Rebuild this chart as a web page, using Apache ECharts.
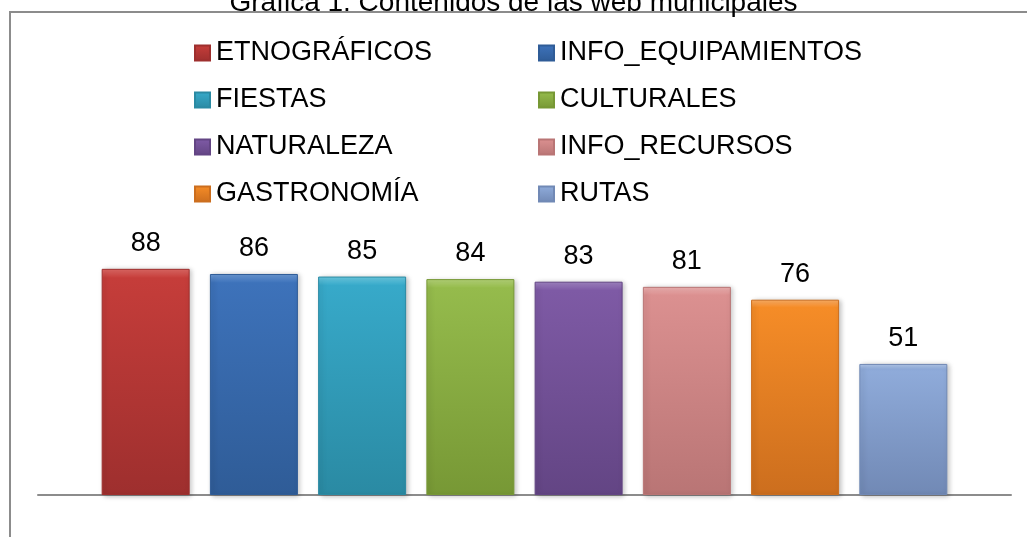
<!DOCTYPE html>
<html>
<head>
<meta charset="utf-8">
<script src="https://cdn.jsdelivr.net/npm/echarts@6/dist/echarts.min.js"></script>
<style>html,body{margin:0;padding:0;background:#fff;}#c{width:1027px;height:537px;}</style>
</head>
<body>
<div id="c"></div>
<script>
var titleText = 'Gráfica 1. Contenidos de las web municipales';
var seriesNames = ['ETNOGRÁFICOS','INFO_EQUIPAMIENTOS','FIESTAS','CULTURALES','NATURALEZA','INFO_RECURSOS','GASTRONOMÍA','RUTAS'];
var values = [88, 86, 85, 84, 83, 81, 76, 51];
var legendCol1 = ['ETNOGRÁFICOS','FIESTAS','NATURALEZA','GASTRONOMÍA'];
var legendCol2 = ['INFO_EQUIPAMIENTOS','CULTURALES','INFO_RECURSOS','RUTAS'];
var topColors = ['#C53D3A','#3D72BA','#37A9C9','#95BB4C','#7E5AA5','#DB9090','#F58C27','#8FABDA'];
var bottomColors = ['#9E2F2E','#2F5C97','#2A8AA3','#779835','#634584','#B97575','#CC6E1E','#7189B5'];
var edgeColors = ['#E06A66','#6C9AD6','#6CCBE3','#B7D67A','#A286C4','#F0B3B3','#FFB066','#B5CBEE'];

var font = '"Liberation Sans", Arial, sans-serif';
var chart = echarts.init(document.getElementById('c'));
var series = seriesNames.map(function (n, i) {
  return {
    name: n,
    type: 'bar',
    data: [values[i]],
    barWidth: 88,
    barGap: '23%',
    itemStyle: {
      color: new echarts.graphic.LinearGradient(0, 0, 0, 1, [
        {offset: 0, color: edgeColors[i]},
        {offset: 0.04, color: topColors[i]},
        {offset: 1, color: bottomColors[i]}
      ]),
      borderColor: bottomColors[i],
      borderWidth: 1,
      shadowBlur: 5,
      shadowColor: 'rgba(0,0,0,0.25)',
      shadowOffsetX: 2,
      shadowOffsetY: 1
    },
    label: {
      show: true,
      position: 'top',
      distance: 12,
      fontSize: 27,
      fontFamily: font,
      color: '#000'
    }
  };
});
function legendCfg(data, left) {
  return {
    data: data,
    orient: 'vertical',
    left: left,
    top: 34,
    itemWidth: 15,
    itemHeight: 15,
    itemGap: 19,
    icon: 'rect',
    textStyle: {fontSize: 27, fontFamily: font, color: '#000', lineHeight: 28, padding: [0,0,0,1]}
  };
}
chart.setOption({
  animation: false,
  title: {
    text: titleText,
    left: 'center',
    top: -16,
    textStyle: {fontSize: 28, fontWeight: 'normal', fontFamily: font, color: '#000'}
  },
  legend: [legendCfg(legendCol1, 189), legendCfg(legendCol2, 533)],
  graphic: [{
    type: 'rect',
    shape: {x: 10, y: 12, width: 1100, height: 600},
    style: {fill: 'none', stroke: '#8c8c8c', lineWidth: 2},
    z: -1
  }],
  grid: {left: 38, right: 16, top: 238, bottom: 42},
  xAxis: {
    type: 'category',
    data: [''],
    axisLine: {show: true, lineStyle: {color: '#8c8c8c', width: 2}},
    axisTick: {show: false},
    axisLabel: {show: false}
  },
  yAxis: {
    type: 'value',
    min: 0,
    max: 100,
    show: false,
    splitLine: {show: false}
  },
  series: series
});
</script>
</body>
</html>
